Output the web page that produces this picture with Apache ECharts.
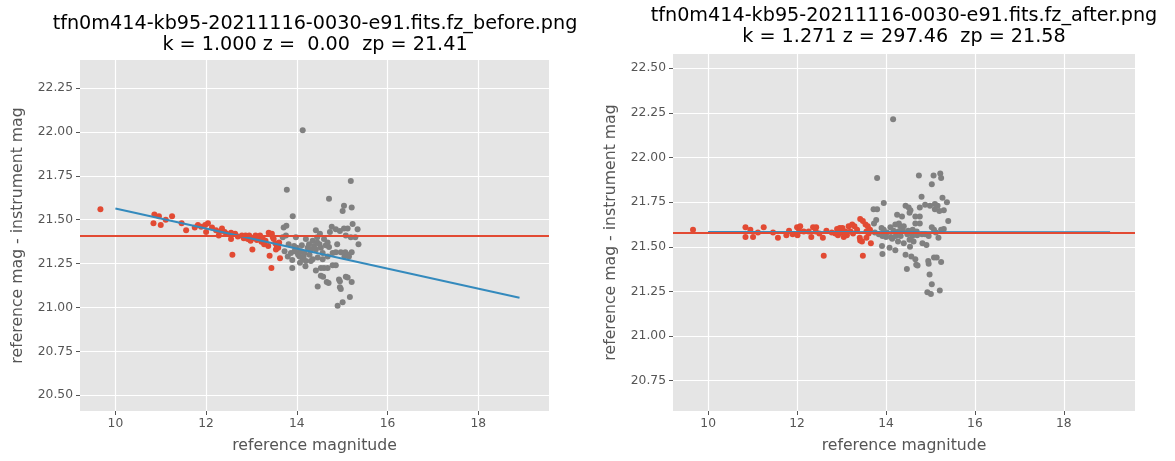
<!DOCTYPE html>
<html>
<head>
<meta charset="utf-8">
<script src="https://cdn.jsdelivr.net/npm/echarts@6.0.0/dist/echarts.min.js"></script>
<style>
  html, body { margin: 0; padding: 0; background: #fff; }
  #chart { width: 1175px; height: 461px; }
</style>
</head>
<body>
<div id="chart"></div>
<script>
// photometric zero point fits, before / after the colour term

const titles = [
  'tfn0m414-kb95-20211116-0030-e91.fits.fz_before.png\nk = 1.000 z =  0.00  zp = 21.41',
  'tfn0m414-kb95-20211116-0030-e91.fits.fz_after.png\nk = 1.271 z = 297.46  zp = 21.58'
]
const zeroPoints = [21.41, 21.58]
const xTicks = [10, 12, 14, 16, 18]
const yTicksBefore = [20.5, 20.75, 21.0, 21.25, 21.5, 21.75, 22.0, 22.25]
const yTicksAfter = [20.75, 21.0, 21.25, 21.5, 21.75, 22.0, 22.25, 22.5]

// fitted line end points [refmag, dmag]
const fitBefore = [[10, 21.564], [18.91, 21.055]]
const fitAfter = [[10, 21.583], [19.04, 21.582]]

// stars kept in the fit [refmag, dmag]
const usedBefore = [
  [9.67,21.56],[10.86,21.53],[10.96,21.52],[10.84,21.48],[11.0,21.47],[11.11,21.50],[11.25,21.52],
  [11.46,21.48],[11.56,21.44],[11.75,21.455],[11.82,21.47],[11.89,21.46],[11.98,21.47],[12.04,21.48],
  [12.0,21.43],[12.13,21.455],[12.22,21.44],[12.28,21.41],[12.29,21.43],[12.35,21.45],[12.41,21.43],
  [12.55,21.425],[12.55,21.39],[12.58,21.30],[12.64,21.42],[12.79,21.41],[12.87,21.41],[12.92,21.39],
  [12.95,21.41],[12.98,21.38],[13.02,21.33],[13.09,21.41],[13.16,21.40],[13.19,21.41],[13.22,21.375],
  [13.25,21.39],[13.31,21.38],[13.38,21.425],[13.45,21.42],[13.37,21.35],[13.40,21.295],[13.44,21.225],
  [13.49,21.39],[13.53,21.365],[13.54,21.33],[13.59,21.34],[13.63,21.28],[13.61,21.37],[12.70,21.405],
  [12.83,21.395],[13.05,21.395],[13.28,21.36],[13.47,21.40],[13.56,21.35],[12.45,21.42],[13.12,21.385]
]
// stars rejected from the fit
const rejectedBefore = [
  [14.13,22.01],[15.19,21.72],[13.78,21.67],[14.71,21.62],[15.04,21.58],[15.01,21.55],[15.21,21.57],
  [13.91,21.52],[13.71,21.455],[13.77,21.465],[14.42,21.44],[14.51,21.42],[14.77,21.46],[14.86,21.445],
  [14.95,21.435],[15.04,21.45],[15.12,21.45],[15.23,21.475],[15.34,21.445],[15.08,21.41],[15.19,21.40],
  [15.29,21.40],[15.36,21.36],[14.73,21.43],[14.20,21.39],[14.35,21.38],[14.60,21.39],[14.68,21.37],
  [14.64,21.355],[14.71,21.345],[14.50,21.36],[13.69,21.40],[13.76,21.41],[13.98,21.40],[13.73,21.32],
  [13.87,21.31],[13.95,21.32],[14.02,21.31],[14.09,21.32],[14.17,21.31],[14.24,21.34],[14.31,21.33],
  [14.42,21.33],[14.53,21.34],[14.57,21.31],[14.28,21.30],[14.06,21.29],[14.13,21.275],[14.20,21.265],
  [14.35,21.275],[14.46,21.285],[14.57,21.275],[14.68,21.29],[14.79,21.31],[14.86,21.315],[14.97,21.315],
  [15.07,21.315],[15.15,21.29],[15.21,21.315],[13.90,21.27],[13.90,21.225],[14.07,21.255],[14.19,21.235],
  [14.31,21.265],[14.42,21.21],[14.53,21.225],[14.60,21.225],[14.68,21.225],[14.79,21.24],[14.86,21.24],
  [14.46,21.12],[14.53,21.18],[14.58,21.175],[14.66,21.145],[14.70,21.14],[14.93,21.16],[14.95,21.15],
  [15.08,21.175],[15.12,21.17],[15.21,21.145],[14.97,21.105],[14.95,21.115],[15.17,21.06],[15.01,21.03],
  [14.90,21.01],[13.82,21.36],[13.94,21.35],[14.00,21.34],[14.11,21.355],[14.27,21.36],[14.38,21.35],
  [14.45,21.37],[13.80,21.29],[14.03,21.30],[14.15,21.29],[15.05,21.29],[15.13,21.30],[14.89,21.36],
  [14.45,21.40]
]

const usedAfter = [
  [9.66,21.595],[10.84,21.61],[10.84,21.555],[10.95,21.595],[11.01,21.555],[11.12,21.58],[11.25,21.61],
  [11.46,21.58],[11.57,21.55],[11.76,21.565],[11.82,21.59],[11.90,21.57],[12.00,21.61],[12.04,21.60],
  [12.07,21.615],[12.01,21.565],[12.15,21.585],[12.26,21.585],[12.32,21.555],[12.36,21.61],[12.43,21.61],
  [12.42,21.585],[12.58,21.55],[12.60,21.45],[12.66,21.59],[12.90,21.60],[12.96,21.605],[12.92,21.565],
  [12.99,21.58],[13.05,21.555],[13.09,21.585],[13.02,21.605],[13.16,21.615],[13.24,21.625],[13.29,21.615],
  [13.20,21.585],[13.26,21.575],[13.42,21.655],[13.48,21.645],[13.54,21.625],[13.59,21.615],[13.41,21.55],
  [13.46,21.53],[13.42,21.535],[13.48,21.45],[13.56,21.585],[13.61,21.575],[13.56,21.55],[13.66,21.52],
  [12.86,21.575],[13.12,21.565],[12.78,21.58],[13.35,21.595],[13.64,21.595],[12.50,21.575]
]
const rejectedAfter = [
  [14.16,22.215],[13.80,21.885],[14.74,21.90],[15.07,21.90],[15.22,21.91],[15.24,21.885],[15.03,21.85],
  [14.80,21.78],[15.27,21.775],[15.37,21.75],[13.95,21.745],[13.72,21.71],[13.80,21.71],[14.44,21.73],
  [14.51,21.72],[14.55,21.705],[14.76,21.72],[14.88,21.735],[14.99,21.73],[15.10,21.74],[15.16,21.73],
  [15.10,21.71],[15.20,21.70],[15.30,21.705],[15.40,21.645],[13.78,21.65],[13.73,21.63],[14.25,21.68],
  [14.36,21.67],[14.53,21.69],[14.66,21.67],[14.76,21.67],[14.66,21.63],[14.76,21.63],[14.10,21.61],
  [14.21,21.625],[14.29,21.63],[14.32,21.615],[14.40,21.615],[13.90,21.605],[13.95,21.595],[15.03,21.61],
  [15.08,21.595],[15.24,21.595],[14.60,21.595],[14.69,21.585],[13.84,21.57],[13.92,21.56],[14.00,21.555],
  [14.11,21.555],[14.22,21.56],[14.33,21.56],[14.48,21.57],[14.59,21.56],[14.70,21.565],[14.81,21.57],
  [14.88,21.57],[14.96,21.56],[15.18,21.55],[13.91,21.505],[14.08,21.495],[14.21,21.48],[13.92,21.46],
  [14.44,21.455],[14.57,21.445],[14.66,21.43],[14.68,21.40],[14.71,21.395],[14.47,21.375],[14.82,21.52],
  [14.91,21.51],[14.95,21.42],[14.96,21.405],[15.08,21.44],[15.14,21.44],[15.24,21.415],[14.98,21.345],
  [15.03,21.29],[14.93,21.245],[15.01,21.235],[15.21,21.255],[14.54,21.50],[14.53,21.54],[14.62,21.53],
  [13.75,21.58],[14.02,21.58],[14.17,21.59],[14.28,21.585],[14.38,21.59],[14.50,21.59],[14.14,21.545],
  [14.40,21.52],[14.27,21.53],[15.12,21.58],[15.30,21.60]
]

const RED = '#E24A33'
const BLUE = '#348ABD'
const GREY = '#808080'
const TXT = '#555555'
const FONT = 'DejaVu Sans'

const chart = echarts.init(document.getElementById('chart'), null, { renderer: 'canvas' })

const makeX = (idx, min, max) => ({
  type: 'value',
  gridIndex: idx,
  min: min,
  max: max,
  name: 'reference magnitude',
  nameLocation: 'middle',
  nameGap: 27,
  nameTextStyle: { color: TXT, fontSize: 15.7, fontFamily: FONT },
  axisLine: { show: false },
  axisTick: { show: true, length: 4, customValues: xTicks, lineStyle: { color: TXT } },
  axisLabel: { customValues: xTicks, margin: 7, color: TXT, fontSize: 12.3, fontFamily: FONT },
  splitLine: { show: true, lineStyle: { color: '#ffffff', width: 1.2 } }
})

const makeY = (idx, min, max, ticks) => ({
  type: 'value',
  gridIndex: idx,
  min: min,
  max: max,
  name: 'reference mag - instrument mag',
  nameLocation: 'middle',
  nameGap: 54,
  nameTextStyle: { color: TXT, fontSize: 15.7, fontFamily: FONT },
  axisLine: { show: false },
  axisTick: { show: true, length: 4, customValues: ticks, lineStyle: { color: TXT } },
  axisLabel: {
    customValues: ticks, margin: 7, color: TXT, fontSize: 12.3, fontFamily: FONT,
    formatter: v => v.toFixed(2)
  },
  splitLine: { show: true, lineStyle: { color: '#ffffff', width: 1.2 } }
})

const scatter = (idx, data, color) => ({
  type: 'scatter',
  xAxisIndex: idx,
  yAxisIndex: idx,
  symbolSize: 6,
  itemStyle: { color: color, opacity: 1 },
  data: data,
  silent: true
})

const fitLine = (idx, data, zp) => ({
  type: 'line',
  xAxisIndex: idx,
  yAxisIndex: idx,
  showSymbol: false,
  symbol: 'none',
  lineStyle: { color: BLUE, width: 2 },
  data: data,
  silent: true,
  markLine: {
    silent: true,
    symbol: ['none', 'none'],
    label: { show: false },
    lineStyle: { color: RED, width: 2, type: 'solid' },
    data: [{ yAxis: zp }]
  }
})

const titleStyle = { fontSize: 19.2, fontWeight: 'normal', color: '#000', fontFamily: FONT, lineHeight: 21 }

const option = {
  backgroundColor: '#ffffff',
  animation: false,
  title: [
    { text: titles[0], left: 315, top: 14, padding: 0, textAlign: 'center', textStyle: titleStyle },
    { text: titles[1], left: 904, top: 6, padding: 0, textAlign: 'center', textStyle: titleStyle }
  ],
  grid: [
    { left: 80, right: 626, top: 60, bottom: 50, show: true, backgroundColor: '#E5E5E5', borderWidth: 0 },
    { left: 673, right: 40, top: 54, bottom: 50, show: true, backgroundColor: '#E5E5E5', borderWidth: 0 }
  ],
  xAxis: [makeX(0, 9.22, 19.56), makeX(1, 9.21, 19.6)],
  yAxis: [
    makeY(0, zeroPoints[0] - 1, zeroPoints[0] + 1, yTicksBefore),
    makeY(1, zeroPoints[1] - 1, zeroPoints[1] + 1, yTicksAfter)
  ],
  series: [
    scatter(0, rejectedBefore, GREY),
    scatter(0, usedBefore, RED),
    fitLine(0, fitBefore, zeroPoints[0]),
    scatter(1, rejectedAfter, GREY),
    scatter(1, usedAfter, RED),
    fitLine(1, fitAfter, zeroPoints[1])
  ]
}

chart.setOption(option)
</script>
</body>
</html>
